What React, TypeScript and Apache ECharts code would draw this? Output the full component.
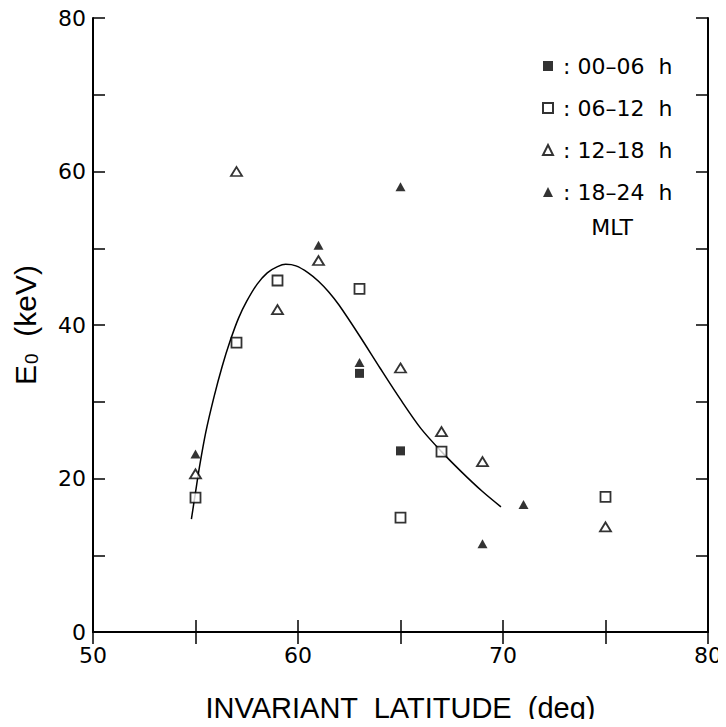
import React, { useEffect, useRef } from "react";
import * as echarts from "echarts";

// Measured data (invariant latitude in deg, E0 in keV)
const lat0006 = [63, 65];
const e0006 = [33.7, 23.6];

const lat0612 = [55, 57, 59, 63, 65, 67, 75];
const e0612 = [17.5, 37.7, 45.8, 44.7, 14.9, 23.5, 17.6];

const lat1218 = [55, 57, 59, 61, 65, 67, 69, 75];
const e1218 = [20.6, 60.0, 42.0, 48.4, 34.4, 26.1, 22.2, 13.7];

const lat1824 = [55, 61, 63, 65, 69, 71];
const e1824 = [23.2, 50.4, 35.1, 58.0, 11.5, 16.6];

// Fitted curve
const fitLat = [54.8, 55.0, 55.2, 55.5, 55.9, 56.3, 56.7, 57.1, 57.5, 58.0, 58.5, 59.0, 59.4, 59.9, 60.5, 61.0, 61.5, 62.0, 63.0, 64.0, 65.0, 66.0, 67.0, 68.0, 69.0, 69.9];
const fitE = [14.7, 18.2, 21.6, 26.0, 30.6, 34.6, 38.0, 40.9, 43.1, 45.3, 46.8, 47.6, 47.9, 47.7, 46.8, 45.7, 44.3, 42.6, 38.6, 34.4, 30.3, 26.5, 23.5, 20.8, 18.3, 16.3];

const seriesNames = [": 00\u201306  h", ": 06\u201312  h", ": 12\u201318  h", ": 18\u201324  h"];
const xTicks = [50, 60, 70, 80];
const yTicks = [0, 20, 40, 60, 80];

const zip = (xs: number[], ys: number[]) => xs.map((x, i) => [x, ys[i]]);

const SANS = "Liberation Sans";
const WIDE = "DejaVu Sans";

export default function App() {
  const ref = useRef<HTMLDivElement>(null);
  useEffect(() => {
    if (!ref.current) return;
    const chart = echarts.init(ref.current, null, { renderer: "svg" });
    const axisLine = { show: true, lineStyle: { color: "#000", width: 2 } };
    const tickStyle = { show: true, inside: true, length: 12, lineStyle: { color: "#000", width: 1.5 } };
    chart.setOption({
      animation: false,
      backgroundColor: "#fff",
      grid: { left: 93, right: 18, top: 18, bottom: 94, containLabel: false },
      xAxis: [
        {
          type: "value", min: 50, max: 80, interval: 5, position: "bottom",
          axisLine, axisTick: tickStyle, splitLine: { show: false },
          axisLabel: {
            color: "#000", fontFamily: WIDE, fontSize: 22, margin: 12,
            formatter: (v: number) => (xTicks.includes(v) ? String(v) : ""),
          },
          name: "INVARIANT  LATITUDE  (deg)", nameLocation: "middle", nameGap: 61,
          nameTextStyle: { color: "#000", fontFamily: SANS, fontSize: 29 },
        },
        {
          type: "value", min: 50, max: 80, interval: 5, position: "top",
          axisLine, axisTick: tickStyle, splitLine: { show: false }, axisLabel: { show: false },
        },
      ],
      yAxis: [
        {
          type: "value", min: 0, max: 80, interval: 10, position: "left",
          axisLine, axisTick: tickStyle, splitLine: { show: false },
          axisLabel: {
            color: "#000", fontFamily: WIDE, fontSize: 22, margin: 7,
            formatter: (v: number) => (yTicks.includes(v) ? String(v) : ""),
          },
          name: "{e|E}{s|0}{e|  (keV)}", nameLocation: "middle", nameGap: 52, nameRotate: 90,
          nameTextStyle: {
            color: "#000", fontFamily: SANS,
            rich: {
              e: { fontSize: 30, fontFamily: SANS, color: "#000" },
              s: { fontSize: 19, fontFamily: SANS, color: "#000", verticalAlign: "bottom", padding: [12, 0, 0, 1] },
            },
          },
        },
        {
          type: "value", min: 0, max: 80, interval: 10, position: "right",
          axisLine, axisTick: tickStyle, splitLine: { show: false }, axisLabel: { show: false },
        },
      ],
      legend: {
        data: seriesNames,
        orient: "vertical",
        left: 537,
        top: 50,
        itemWidth: 10,
        itemHeight: 10,
        itemGap: 20,
        textStyle: { color: "#000", fontFamily: WIDE, fontSize: 22, lineHeight: 22, padding: [0, 0, 0, 5] },
        selectedMode: false,
      },
      graphic: [
        {
          type: "text", x: 612, y: 227,
          style: { text: "MLT", fill: "#000", font: `22px "${WIDE}"`, align: "center", verticalAlign: "middle" },
        },
      ],
      series: [
        {
          type: "line", data: zip(fitLat, fitE), smooth: 0.3, showSymbol: false,
          lineStyle: { color: "#000", width: 1.5 }, silent: true, z: 1,
        },
        {
          name: seriesNames[0], type: "scatter", data: zip(lat0006, e0006),
          symbol: "rect", symbolSize: 9, itemStyle: { color: "#000" }, z: 3,
        },
        {
          name: seriesNames[1], type: "scatter", data: zip(lat0612, e0612),
          symbol: "rect", symbolSize: 10, itemStyle: { color: "#fff", borderColor: "#000", borderWidth: 1.8 }, z: 3,
        },
        {
          name: seriesNames[2], type: "scatter", data: zip(lat1218, e1218),
          symbol: "triangle", symbolSize: [11, 9], itemStyle: { color: "#fff", borderColor: "#000", borderWidth: 1.8 }, z: 3,
        },
        {
          name: seriesNames[3], type: "scatter", data: zip(lat1824, e1824),
          symbol: "triangle", symbolSize: [10, 9], itemStyle: { color: "#000" }, z: 3,
        },
      ],
    });
    return () => chart.dispose();
  }, []);
  return <div ref={ref} style={{ width: 726, height: 727, margin: -8 }} />;
}
